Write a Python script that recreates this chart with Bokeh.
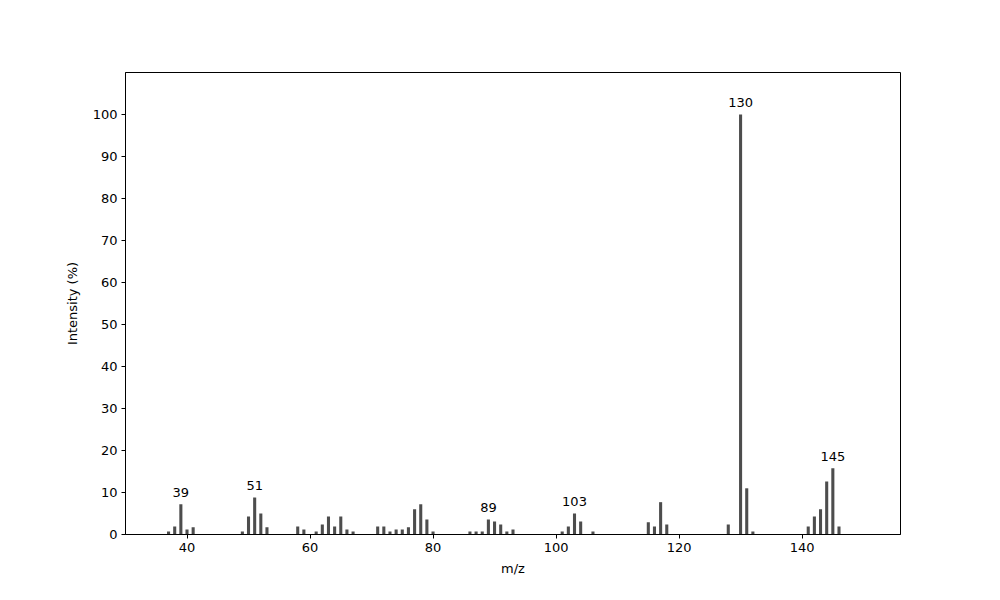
from bokeh.plotting import figure
from bokeh.models import ColumnDataSource, FixedTicker, Range1d
from bokeh.embed import file_html
from bokeh.resources import INLINE
from bokeh.core.properties import value

mz = [37, 38, 39, 40, 41,
      49, 50, 51, 52, 53,
      58, 59, 61, 62, 63, 64, 65, 66, 67,
      71, 72, 73, 74, 75, 76, 77, 78, 79, 80,
      86, 87, 88, 89, 90, 91, 92, 93,
      101, 102, 103, 104, 106,
      115, 116, 117, 118,
      128, 130, 131, 132,
      141, 142, 143, 144, 145, 146]
intensity = [0.7, 1.9, 7.2, 1.2, 1.7,
             0.7, 4.3, 8.8, 5.0, 1.7,
             1.9, 1.2, 0.7, 2.4, 4.3, 1.9, 4.3, 1.2, 0.7,
             1.9, 1.9, 0.7, 1.2, 1.2, 1.7, 6.0, 7.2, 3.6, 0.7,
             0.7, 0.7, 0.7, 3.6, 3.1, 2.4, 0.7, 1.2,
             0.7, 1.9, 5.0, 3.1, 0.7,
             2.9, 1.9, 7.7, 2.4,
             2.4, 100.0, 11.0, 0.7,
             1.9, 4.3, 6.0, 12.6, 15.8, 1.9]
label_mz = [39, 51, 89, 103, 130, 145]
label_int = [intensity[mz.index(m)] for m in label_mz]
label_txt = [str(m) for m in label_mz]

x_ticks = [40, 60, 80, 100, 120, 140]
y_ticks = [0, 10, 20, 30, 40, 50, 60, 70, 80, 90, 100]

FONT = "DejaVu Sans"

p = figure(output_backend="svg", toolbar_location=None,
           width=984, height=584,
           frame_width=775, frame_height=462,
           min_border_left=125, min_border_top=72,
           min_border_right=84, min_border_bottom=50,
           x_range=Range1d(30, 156), y_range=Range1d(0, 110))

src = ColumnDataSource(dict(x=mz, top=intensity))
p.vbar(x="x", top="top", bottom=0, width=0.5, source=src,
       fill_color="#4d4d4d", line_color=None)

lsrc = ColumnDataSource(dict(x=label_mz, y=label_int, t=label_txt))
p.text(x="x", y="y", text="t", source=lsrc, text_align="center",
       text_baseline="alphabetic", y_offset=-12,
       text_font=value(FONT), text_font_size="13px", text_color="black")

p.xgrid.visible = False
p.ygrid.visible = False
p.outline_line_color = "black"
p.outline_line_width = 1
p.outline_line_alpha = 1

p.xaxis.ticker = FixedTicker(ticks=x_ticks)
p.yaxis.ticker = FixedTicker(ticks=y_ticks)
for ax in (p.xaxis, p.yaxis):
    ax.axis_line_color = "black"
    ax.major_tick_in = 0
    ax.major_tick_out = 4
    ax.minor_tick_line_color = None
    ax.major_label_text_font = FONT
    ax.major_label_text_font_size = "13px"
    ax.major_label_text_color = "black"
    ax.axis_label_text_font = FONT
    ax.axis_label_text_font_size = "13px"
    ax.axis_label_text_font_style = "normal"
    ax.axis_label_text_color = "black"
    ax.major_label_standoff = 4

p.xaxis.axis_label = "m/z"
p.yaxis.axis_label = "Intensity (%)"
p.xaxis.axis_label_standoff = 6
p.yaxis.axis_label_standoff = 10

open("out.html", "w").write(file_html(p, INLINE))
